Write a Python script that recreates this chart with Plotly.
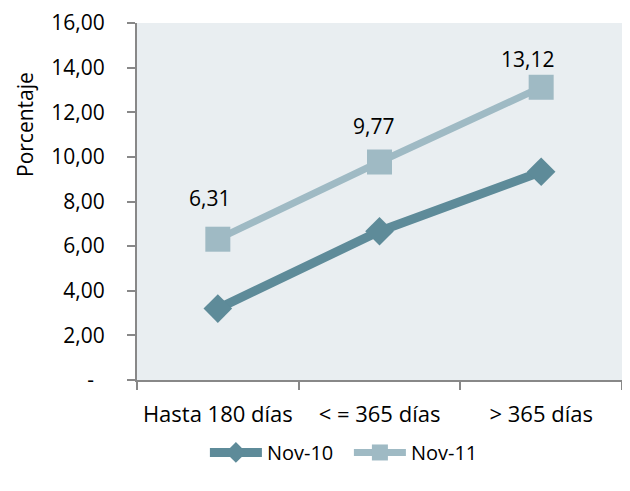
import plotly.graph_objects as go

categories = ["Hasta 180 días", "< = 365 días", "> 365 días"]
nov10 = [3.20, 6.67, 9.33]
nov11 = [6.31, 9.77, 13.12]
nov11_labels = ["6,31", "9,77", "13,12"]
ytick_vals = [0, 2, 4, 6, 8, 10, 12, 14, 16]
ytick_text = ["-\u00a0\u00a0", "2,00", "4,00", "6,00", "8,00", "10,00", "12,00", "14,00", "16,00"]
label_xshift = [-8, -6, -14]
label_yshift = [41, 36, 28]

dark = "#5E8B99"
light = "#9FBAC4"
font = "Open Sans"

fig = go.Figure()
fig.add_trace(go.Scatter(
    x=categories, y=nov10, name="Nov-10", mode="lines+markers",
    line=dict(color=dark, width=9),
    marker=dict(symbol="diamond", size=22, color=dark),
))
fig.add_trace(go.Scatter(
    x=categories, y=nov11, name="Nov-11", mode="lines+markers",
    line=dict(color=light, width=7),
    marker=dict(symbol="square", size=25, color=light),
))
for c, v, t, xs, ys in zip(categories, nov11, nov11_labels, label_xshift, label_yshift):
    fig.add_annotation(x=c, y=v, text=t, showarrow=False, xshift=xs, yshift=ys,
                       font=dict(size=21, color="#000000", family=font))

fig.add_annotation(xref="paper", yref="paper", x=-0.231, y=0.717, text="Porcentaje",
                   textangle=-90, showarrow=False, xanchor="center", yanchor="middle",
                   font=dict(size=21, color="#000000", family=font))

fig.update_layout(
    width=614, height=475,
    margin=dict(l=129, r=0, t=12, b=103),
    paper_bgcolor="white", plot_bgcolor="#E9EEF1",
    font=dict(family=font, size=21, color="#000000"),
    showlegend=True,
    legend=dict(orientation="h", x=0.14, xanchor="left", y=-0.203, yanchor="middle",
                font=dict(size=20), tracegroupgap=0, itemwidth=52,
                entrywidth=77, entrywidthmode="pixels"),
)
fig.update_xaxes(
    type="category", range=[-0.5, 2.5], showgrid=False,
    showline=True, linecolor="#888888", linewidth=2,
    ticks="outside", ticklen=8, tickcolor="#888888", tickwidth=2,
    tickson="boundaries", tickfont=dict(size=22), zeroline=False,
    ticklabelstandoff=14, ticklabeloverflow="allow",
)
fig.update_yaxes(
    range=[0, 16], tickvals=ytick_vals, ticktext=ytick_text, showgrid=False,
    showline=True, linecolor="#888888", linewidth=2,
    ticks="outside", ticklen=8, tickcolor="#888888", tickwidth=2,
    ticklabelstandoff=18, tickfont=dict(size=21), ticklabeloverflow="allow",
    zeroline=False,
)

fig.write_html("out.html")
